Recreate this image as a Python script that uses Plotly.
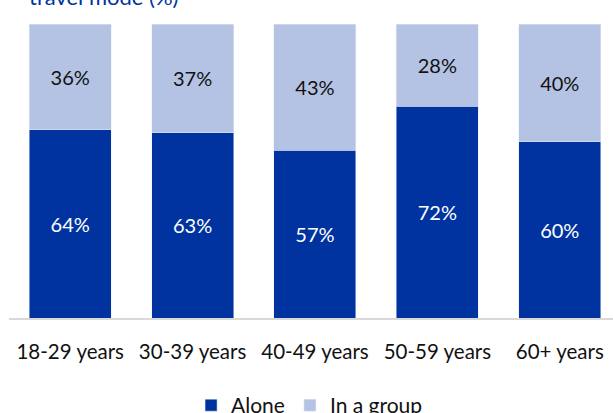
import plotly.graph_objects as go

categories = ["18-29 years", "30-39 years", "40-49 years", "50-59 years", "60+ years"]
alone = [64, 63, 57, 72, 60]
group = [36, 37, 43, 28, 40]
series_names = ["Alone", "In a group"]
title_text = "travel mode (%)"

dark = "#0033A0"
light = "#B4C3E3"
font_family = "Lato, 'Open Sans', sans-serif"

fig = go.Figure()
fig.add_trace(go.Bar(
    x=categories, y=alone, name=series_names[0], marker_color=dark,
    text=[f"{v}%" for v in alone], textposition="inside", insidetextanchor="middle",
    textfont=dict(color="white", size=20, family=font_family),
))
fig.add_trace(go.Bar(
    x=categories, y=group, name=series_names[1], marker_color=light,
    text=[f"{v}%" for v in group], textposition="inside", insidetextanchor="middle",
    textfont=dict(color="#111111", size=20, family=font_family),
))

fig.update_layout(
    barmode="stack",
    bargap=0.33,
    width=613, height=413,
    margin=dict(l=9, r=0, t=24, b=95, autoexpand=False),
    plot_bgcolor="white", paper_bgcolor="white",
    font=dict(family=font_family, size=20, color="#111111"),
    showlegend=True,
    legend=dict(orientation="h", x=0.505, xanchor="center", xref="container",
                yref="container", y=0.018, yanchor="middle",
                font=dict(size=21, color="#111111"), traceorder="normal"),
    xaxis=dict(range=[-0.5, 4.435], showline=True, linecolor="#D9D9D9", linewidth=2,
               ticks="", tickfont=dict(size=20.5), ticklabelstandoff=14,
               automargin=False, fixedrange=True),
    yaxis=dict(range=[0, 100], visible=False, showgrid=False, automargin=False),
    annotations=[dict(text=title_text, xref="paper", yref="paper", x=0.03, xanchor="left",
                      y=1.0, yanchor="bottom", yshift=12, showarrow=False,
                      font=dict(size=22, color=dark, family=font_family))],
)

fig.write_html("out.html", config={"displayModeBar": False},
               post_script="document.body.style.margin='0';document.body.style.overflow='hidden';")
